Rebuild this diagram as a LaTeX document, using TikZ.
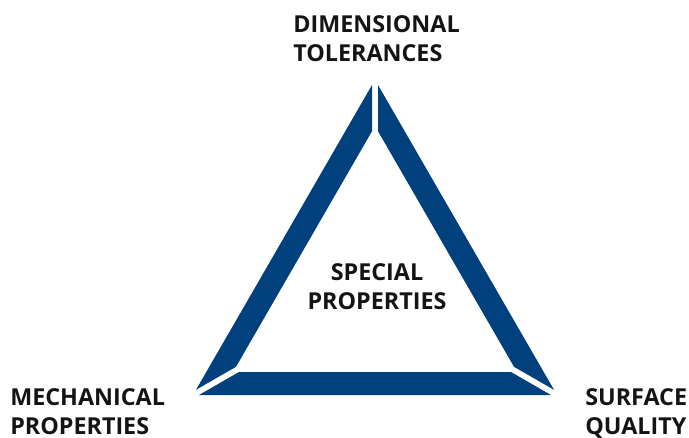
\documentclass[tikz,border=0pt]{standalone}
\usepackage{fontspec}
\setmainfont{Open Sans}
\usetikzlibrary{calc}

\definecolor{barblue}{RGB}{0,65,125}

\begin{document}
\begin{tikzpicture}[x=0.75pt,y=-0.75pt,
  bar/.style={fill=barblue},
  label/.style={inner sep=0pt,anchor=north west,align=left,
    font=\fontsize{17.5}{22}\selectfont\bfseries,text=black!92}]
  \useasboundingbox (0,0) rectangle (689,437);

  % outer and inner corners of the triangle
  \coordinate (A) at (375,79.8);
  \coordinate (B) at (193,395);
  \coordinate (C) at (557,395);
  \coordinate (Ai) at (375,126);
  \coordinate (Bi) at (233,372);
  \coordinate (Ci) at (517,372);

  % three bars, cut apart at the corners
  \foreach \p/\q in {A/B,B/C,C/A}
    \fill[bar] ($(\p)!4.5pt!(\q)$) -- ($(\q)!4.5pt!(\p)$)
      -- ($(\q i)!4.5pt!(\p i)$) -- ($(\p i)!4.5pt!(\q i)$) -- cycle;

  \node[label] (dim) at (293,15) {DIMENSIONAL\\TOLERANCES};
  \node[label] (mech) at (10,388) {MECHANICAL\\PROPERTIES};
  \node[label] (surf) at (585,388) {SURFACE\\QUALITY};
  \node[label,anchor=north,align=center] (spec) at (377,263) {SPECIAL\\PROPERTIES};
\end{tikzpicture}
\end{document}
